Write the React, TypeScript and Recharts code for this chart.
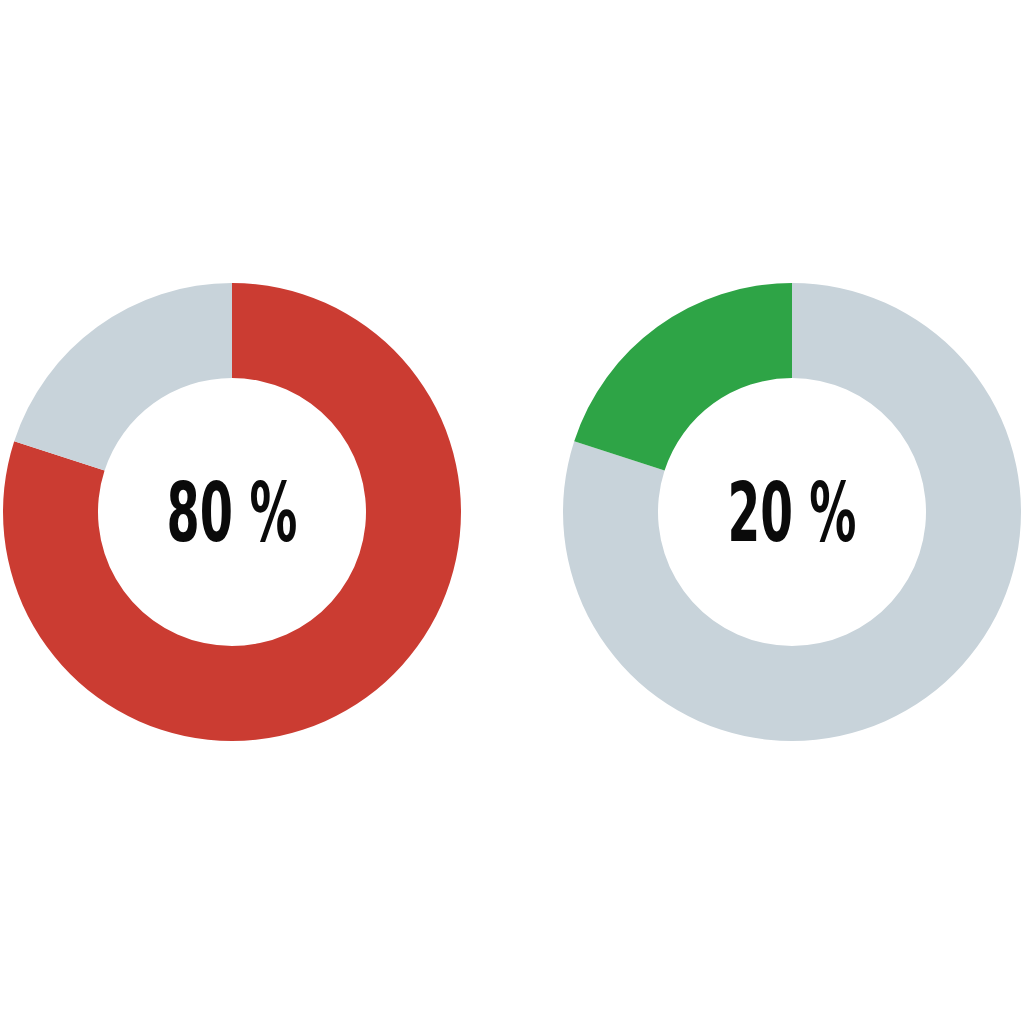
import React from "react";
import { PieChart, Pie, Cell, Label } from "recharts";

const leftNames = ["Yes", "No"];
const leftValues = [80, 20];
const leftColors = ["#CB3C32", "#C8D3DA"];
const leftLabel = "80 %";

const rightNames = ["No", "Yes"];
const rightValues = [80, 20];
const rightColors = ["#C8D3DA", "#2EA446"];
const rightLabel = "20 %";

const leftData = leftNames.map((n, i) => ({ name: n, value: leftValues[i] }));
const rightData = rightNames.map((n, i) => ({ name: n, value: rightValues[i] }));

const CY = 512;
const LEFT_CX = 232;
const RIGHT_CX = 792;

const CenterText = (text: string, cx: number, width: number) => (props: any) => {
  const vb = props.viewBox || {};
  const x = typeof vb.cx === "number" ? vb.cx : cx;
  const y = typeof vb.cy === "number" ? vb.cy : CY;
  return (
    <text
      x={x}
      y={y + 29}
      textAnchor="middle"
      fontFamily="'DejaVu Sans Condensed', 'DejaVu Sans', sans-serif"
      fontWeight="bold"
      fontSize={82}
      fill="#0a0a0a"
      textLength={width}
      lengthAdjust="spacingAndGlyphs"
    >
      {text}
    </text>
  );
};

export default function App() {
  return (
    <div style={{ position: "absolute", left: 0, top: 0, width: 1024, height: 1024, background: "#fff" }}>
      <PieChart width={1024} height={1024} margin={{ top: 0, right: 0, bottom: 0, left: 0 }}>
        <Pie
          data={leftData}
          dataKey="value"
          cx={LEFT_CX}
          cy={CY}
          innerRadius={134}
          outerRadius={229}
          startAngle={90}
          endAngle={-270}
          stroke="none"
          isAnimationActive={false}
        >
          {leftData.map((d, i) => (
            <Cell key={d.name} fill={leftColors[i]} />
          ))}
          <Label position="center" content={CenterText(leftLabel, LEFT_CX, 131)} />
        </Pie>
        <Pie
          data={rightData}
          dataKey="value"
          cx={RIGHT_CX}
          cy={CY}
          innerRadius={134}
          outerRadius={229}
          startAngle={90}
          endAngle={-270}
          stroke="none"
          isAnimationActive={false}
        >
          {rightData.map((d, i) => (
            <Cell key={d.name} fill={rightColors[i]} />
          ))}
          <Label position="center" content={CenterText(rightLabel, RIGHT_CX, 129)} />
        </Pie>
      </PieChart>
    </div>
  );
}
